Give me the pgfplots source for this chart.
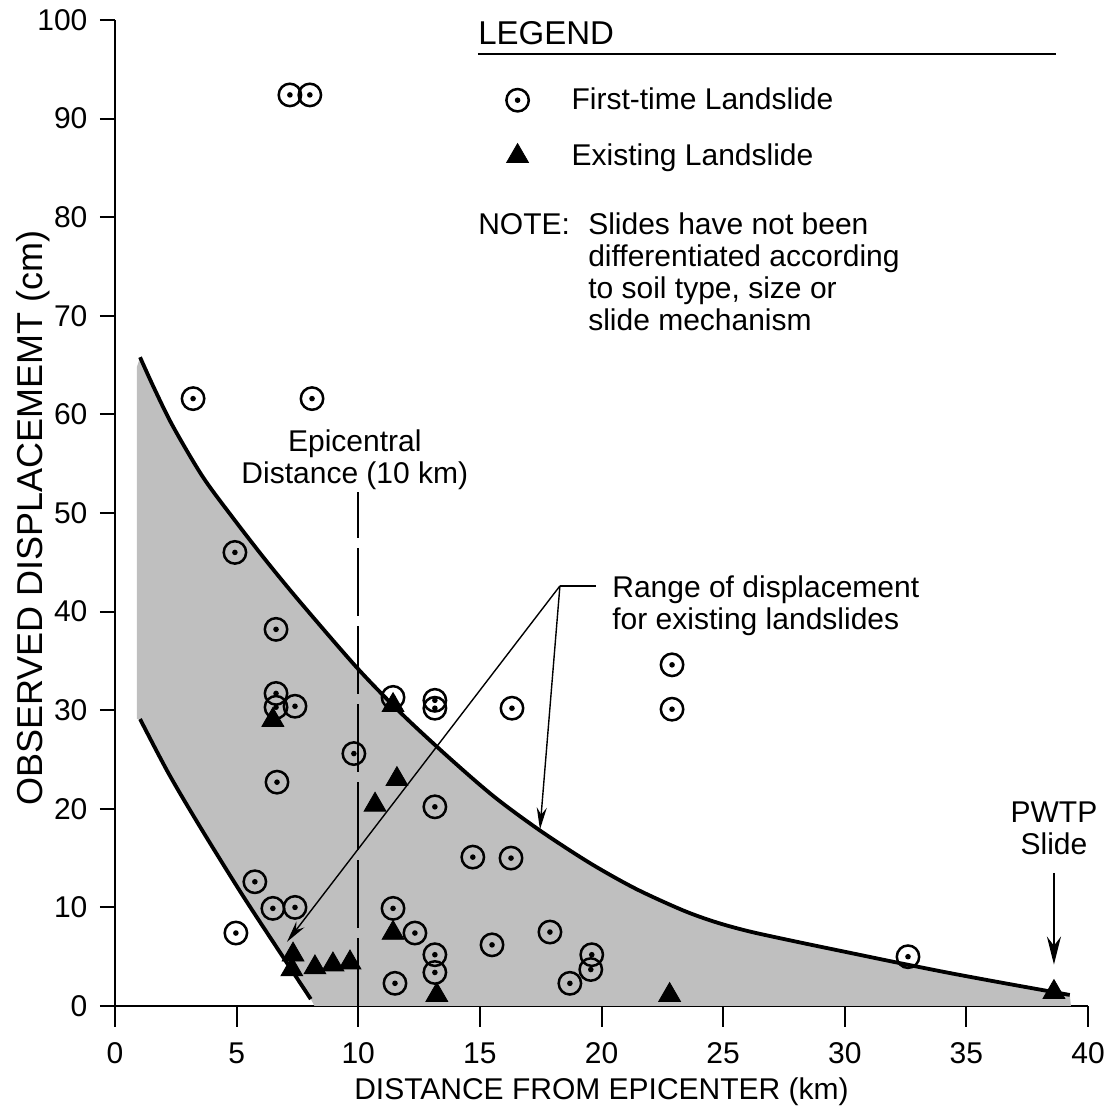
\documentclass[border=0pt]{standalone}
\usepackage{fontspec}
\setmainfont{Liberation Sans}
\usepackage{pgfplots}
\pgfplotsset{compat=1.18}
\usetikzlibrary{arrows.meta}
\pgfdeclareplotmark{odot}{%
  \pgfpathcircle{\pgfpointorigin}{\pgfplotmarksize}\pgfusepathqstroke
  \pgfpathcircle{\pgfpointorigin}{0.25\pgfplotmarksize}\pgfusepathqfill}
\newcommand\txt{\fontsize{15}{16}\selectfont}
\begin{document}
\begin{tikzpicture}
\begin{axis}[
  at={(0,0)}, anchor=south west,
  scale only axis, width=486.5pt, height=493pt,
  xmin=0, xmax=40, ymin=0, ymax=100,
  axis x line*=bottom, axis y line*=left,
  xtick={0,5,...,40}, ytick={0,10,...,100},
  tick align=outside,
  xtick style={/pgfplots/major tick length=10.5pt},
  ytick style={/pgfplots/major tick length=7.5pt},
  axis line style={line width=1pt},
  every tick/.style={line width=1pt, black},
  ticklabel style={font=\txt},
  xticklabel shift=10.5pt, yticklabel shift=6pt,
  /pgf/number format/assume math mode=true,
  xlabel={DISTANCE FROM EPICENTER (km)},
  ylabel={OBSERVED DISPLACEMEMT (cm)},
  xlabel style={font=\txt, at={(axis description cs:0.5,-0.087)}, anchor=center},
  ylabel style={font=\fontsize{18}{19}\selectfont, at={(axis description cs:-0.0841,0.495)}, anchor=center},
  clip=false,
  legend style={at={(axis cs:16.55,91.9)}, anchor=north west, xshift=-6.5pt, yshift=6pt,
    draw=none, fill=none, inner sep=0pt, outer sep=0pt, row sep=15.5pt,
    font=\txt, nodes={inner sep=0pt}},
  legend cell align=left,
  legend image code/.code={\draw[#1] plot coordinates {(0pt,0pt)}; \path[draw=none, fill=none] (-6.5pt,-6pt) rectangle (27pt,6pt);},
]
% shaded range
\addplot[fill=black!25, draw=none, forget plot] coordinates {
 (0.9,64.8) (1.03,65.8) (1.6,62.7) (2.38,58.8) (3.6,53.7) (4.85,49.5) (6.2,45.2) (7.60,41.0) (9.95,34.3)
 (11.8,29.6) (13.77,25.1) (15.6,21.2) (17.47,17.8) (19.52,14.5) (21.4,11.9) (23.35,9.7) (24.7,8.5)
 (26.1,7.55) (28.15,6.45) (30.2,5.4) (32.26,4.35) (34.3,3.35) (36.37,2.4) (38.55,1.43) (39.25,1.12)
 (39.3,0) (8.2,0) (8.05,0.7) (6.9,5.0) (5.2,11.4) (3.49,18.2) (2.2,23.6) (1.03,29.1) (0.9,29.1)} -- cycle;
\addplot[line width=1.9pt, smooth, forget plot] coordinates {
 (1.03,65.8) (1.6,62.7) (2.38,58.8) (3.6,53.7) (4.85,49.5) (6.2,45.2) (7.60,41.0) (9.95,34.3)
 (11.8,29.6) (13.77,25.1) (15.6,21.2) (17.47,17.8) (19.52,14.5) (21.4,11.9) (23.35,9.7) (24.7,8.5)
 (26.1,7.55) (28.15,6.45) (30.2,5.4) (32.26,4.35) (34.3,3.35) (36.37,2.4) (38.55,1.43) (39.25,1.12)};
\addplot[line width=1.9pt, smooth, forget plot] coordinates {
 (1.03,29.1) (2.2,23.6) (3.49,18.2) (5.2,11.4) (6.9,5.0) (8.05,0.7)};
% epicentral distance
\addplot[line width=1pt, dash pattern=on 34pt off 5pt, forget plot] coordinates {(10,0) (10,52.1)};
% first-time landslides
\addplot[only marks, mark=odot, mark size=5.6pt, mark options={line width=1.25pt, black}] coordinates {
 (7.19,92.4) (8.01,92.4) (3.21,61.6) (8.10,61.6) (4.93,46.0) (6.62,38.2)
 (6.62,31.7) (6.62,30.3) (7.40,30.4) (11.43,31.3) (13.15,31.0) (13.15,30.2)
 (16.32,30.2) (22.9,34.6) (22.9,30.1) (9.82,25.6) (6.66,22.7) (13.15,20.2)
 (14.71,15.1) (16.28,15.0) (5.75,12.6) (6.49,9.9) (7.40,10.0) (4.97,7.4)
 (11.43,9.9) (12.33,7.4) (15.5,6.2) (17.88,7.5) (13.15,5.2) (13.15,3.4)
 (11.51,2.3) (19.6,5.2) (19.56,3.7) (18.7,2.3) (32.6,5.0)};
\addlegendentry{First-time Landslide}
% existing landslides
\addplot[only marks, mark=triangle*, mark size=6.3pt, mark options={black}] coordinates {
 (6.49,29.0) (11.43,30.5) (11.59,23.0) (10.69,20.4) (11.43,7.4) (7.32,5.2)
 (7.27,3.7) (8.22,3.9) (8.96,4.2) (9.66,4.4) (13.23,1.1) (22.8,1.1) (38.6,1.4)};
\addlegendentry{Existing Landslide}
% annotations
\node[anchor=base west, font=\fontsize{16.5}{17}\selectfont, inner sep=0pt] at (axis cs:14.92,97.5) {LEGEND};
\draw[line width=0.7pt] (axis cs:14.92,96.55) -- (axis cs:38.7,96.55);
\node[anchor=base west, font=\txt, inner sep=0pt] at (axis cs:14.92,78.2) {NOTE:};
\node[anchor=base west, font=\txt, inner sep=0pt] at (axis cs:19.44,78.2)
  {\begin{tabular}[t]{@{}l@{}}Slides have not been\\differentiated according\\to soil type, size or\\slide mechanism\end{tabular}};
\node[anchor=base, font=\txt, inner sep=0pt] at (axis cs:9.86,56.2)
  {\begin{tabular}[t]{@{}c@{}}Epicentral\\Distance (10 km)\end{tabular}};
\node[anchor=base west, font=\txt, inner sep=0pt] at (axis cs:20.43,41.4)
  {\begin{tabular}[t]{@{}l@{}}Range of displacement\\for existing landslides\end{tabular}};
\draw[line width=0.7pt] (axis cs:19.77,42.6) -- (axis cs:18.29,42.6);
\draw[line width=0.7pt, -{Stealth[length=11pt,width=5pt]}] (axis cs:18.29,42.6) -- (axis cs:7.07,6.5);
\draw[line width=0.7pt, -{Stealth[length=11pt,width=5pt]}] (axis cs:18.29,42.6) -- (axis cs:17.47,17.9);
\node[anchor=base, font=\txt, inner sep=0pt] at (axis cs:38.6,18.6)
  {\begin{tabular}[t]{@{}c@{}}PWTP\\Slide\end{tabular}};
\draw[line width=0.8pt, -{Stealth[length=14pt,width=7pt]}] (axis cs:38.6,13.5) -- (axis cs:38.6,4.2);
\end{axis}
\pgfresetboundingbox
\useasboundingbox (-57.5pt,-52.5pt) rectangle (498.5pt,503pt);
\end{tikzpicture}
\end{document}
